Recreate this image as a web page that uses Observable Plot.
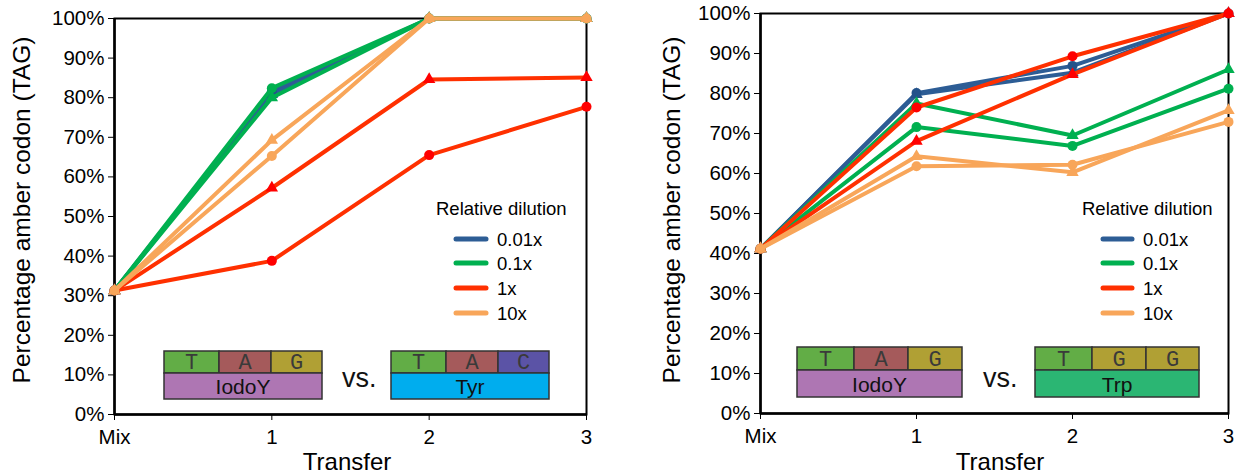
<!DOCTYPE html>
<html>
<head>
<meta charset="utf-8">
<script src="https://cdn.jsdelivr.net/npm/d3@7"></script>
<script src="https://cdn.jsdelivr.net/npm/@observablehq/plot@0.6"></script>
<style>
  html, body { margin: 0; padding: 0; background: #fff; }
  #wrap { display: flex; flex-direction: row; width: 1248px; height: 475px; }
  svg { overflow: visible; }
</style>
</head>
<body>
<div id="wrap"></div>
<script>
// ---- data ----
const transfers = ["Mix", "1", "2", "3"];
const dilutions = ["0.01x", "0.1x", "1x", "10x"];
const yTicks = [0, 10, 20, 30, 40, 50, 60, 70, 80, 90, 100];

// left panel: IodoY vs Tyr (order of rows = dilutions)
const leftCircles = [
  [31.3, 81.5, 100, 100],
  [31.3, 82.4, 100, 100],
  [31.3, 38.8, 65.5, 77.7],
  [31.3, 65.3, 100, 100]
];
const leftTriangles = [
  [31.3, 80.8, 100, 100],
  [31.3, 80.0, 100, 100],
  [31.3, 57.2, 84.6, 85.1],
  [31.3, 69.3, 100, 100]
];
// right panel: IodoY vs Trp
const rightCircles = [
  [41.2, 80.1, 86.9, 100],
  [41.2, 71.6, 66.9, 81.2],
  [41.2, 76.5, 89.3, 100],
  [41.2, 61.8, 62.2, 72.9]
];
const rightTriangles = [
  [41.2, 79.8, 85.2, 100],
  [41.2, 77.5, 69.5, 86.0],
  [41.2, 68.1, 84.8, 100],
  [41.2, 64.3, 60.3, 75.8]
];

const lineColors = ["#2d5d95", "#00b050", "#ff3000", "#f8a65a"];
const markColors = ["#23528a", "#00b050", "#ff0000", "#f8a65a"];

const FONT = "'Liberation Sans', Arial, sans-serif";

function rowsFor(circles, triangles) {
  const rows = [];
  dilutions.forEach((d, i) => {
    circles[i].forEach((v, t) => rows.push({dil: d, di: i, shape: "circle", x: t, y: v}));
    triangles[i].forEach((v, t) => rows.push({dil: d, di: i, shape: "triangle", x: t, y: v}));
  });
  return rows;
}

function panel(circles, triangles, m) {
  const rows = rowsFor(circles, triangles);
  const seriesMarks = dilutions.flatMap((d, i) => {
    const sub = rows.filter(r => r.dil === d);
    return [
      Plot.line(sub, {x: "x", y: "y", z: "shape", stroke: lineColors[i], strokeWidth: 4, strokeLinejoin: "round"}),
      Plot.dot(sub.filter(r => r.shape === "circle"), {x: "x", y: "y", r: 5, fill: markColors[i], symbol: "circle"}),
      Plot.dot(sub.filter(r => r.shape === "triangle"), {x: "x", y: "y", r: 4.6, fill: markColors[i], symbol: "triangle"})
    ];
  });
  return Plot.plot({
    width: 624, height: 475,
    marginLeft: m.left, marginRight: m.right, marginTop: m.top, marginBottom: m.bottom,
    style: {fontFamily: FONT, fontSize: "20.5px", color: "#000", background: "transparent", overflow: "visible"},
    x: {type: "linear", domain: [0, 3]},
    y: {domain: [0, 100]},
    marks: [
      Plot.frame({stroke: "#000", strokeWidth: 2}),
      Plot.axisX({ticks: [0, 1, 2, 3], tickFormat: t => transfers[t], tickSize: 6, tickPadding: 9, tickStrokeWidth: 2, label: null, fontSize: 20.5}),
      Plot.axisY({ticks: yTicks, tickFormat: v => v + "%", tickSize: 6, tickPadding: 4, tickStrokeWidth: 1.5, label: null, fontSize: 20.5}),
      Plot.ruleX([0], {strokeWidth: 2.5}),
      Plot.ruleY([0], {strokeWidth: 2.5}),
      ...seriesMarks
    ]
  });
}

function annotate(svgNode, cfg) {
  const svg = d3.select(svgNode);
  const g = svg.append("g").attr("font-family", FONT).attr("text-anchor", "start");
  // axis titles
  g.append("text").attr("transform", `translate(${cfg.yTitleX},${cfg.yTitleY}) rotate(-90)`)
    .attr("text-anchor", "middle").attr("font-size", 24.5).attr("fill", "#000")
    .text("Percentage amber codon (TAG)");
  g.append("text").attr("x", cfg.xTitleX).attr("y", 470).attr("text-anchor", "middle")
    .attr("font-size", 24).attr("fill", "#000").text("Transfer");
  // legend
  const L = cfg.legend;
  g.append("text").attr("x", L.titleX).attr("y", 215).attr("text-anchor", "start").attr("font-size", 18.5).attr("fill", "#000").text("Relative dilution");
  const ys = [239, 263, 288, 313];
  dilutions.forEach((d, i) => {
    g.append("line").attr("x1", L.lineX1).attr("x2", L.lineX2).attr("y1", ys[i]).attr("y2", ys[i])
      .attr("stroke", lineColors[i]).attr("stroke-width", 5).attr("stroke-linecap", "round");
    g.append("text").attr("x", L.labelX).attr("y", ys[i] + 6.5).attr("text-anchor", "start").attr("font-size", 18.5).attr("fill", "#000").text(d);
  });
  // codon boxes
  cfg.boxes.forEach(b => {
    const cells = b.cells;
    for (let k = 0; k < 3; k++) {
      g.append("rect").attr("x", cells[k]).attr("y", b.top).attr("width", cells[k + 1] - cells[k]).attr("height", b.mid - b.top)
        .attr("fill", b.codonColors[k]).attr("stroke", "#333").attr("stroke-width", 1.5);
      g.append("text").attr("x", (cells[k] + cells[k + 1]) / 2).attr("y", b.mid - 4).attr("text-anchor", "middle")
        .attr("font-family", "'Courier New', Courier, 'Liberation Mono', monospace").attr("font-size", 22).attr("fill", "#3a3a3a")
        .text(b.codon[k]);
    }
    g.append("rect").attr("x", cells[0]).attr("y", b.mid).attr("width", cells[3] - cells[0]).attr("height", b.bottom - b.mid)
      .attr("fill", b.aaColor).attr("stroke", "#333").attr("stroke-width", 1.5);
    g.append("text").attr("x", (cells[0] + cells[3]) / 2).attr("y", b.bottom - 5).attr("text-anchor", "middle")
      .attr("font-size", 21).attr("fill", "#111").text(b.aa);
  });
  g.append("text").attr("x", cfg.vsX).attr("y", 387).attr("text-anchor", "start").attr("font-size", 27).attr("fill", "#111").text("vs.");
}

const cT = "#62ad46", cA = "#a55a5b", cG = "#b0a034", cC = "#5b53a6";

const left = panel(leftCircles, leftTriangles, {left: 114, right: 38, top: 18, bottom: 61});
const right = panel(rightCircles, rightTriangles, {left: 136, right: 20, top: 13, bottom: 62});
document.getElementById("wrap").append(left, right);

annotate(left, {
  yTitleX: 30, yTitleY: 210, xTitleX: 347,
  legend: {titleX: 436, lineX1: 456, lineX2: 486, labelX: 497},
  boxes: [
    {cells: [164, 219, 271, 322], top: 351, mid: 373, bottom: 399, codon: ["T", "A", "G"], codonColors: [cT, cA, cG], aa: "IodoY", aaColor: "#ae76b3"},
    {cells: [391, 446, 498, 549], top: 351, mid: 373, bottom: 399, codon: ["T", "A", "C"], codonColors: [cT, cA, cC], aa: "Tyr", aaColor: "#00adee"}
  ],
  vsX: 342
});
annotate(right, {
  yTitleX: 56, yTitleY: 210, xTitleX: 376,
  legend: {titleX: 458, lineX1: 479, lineX2: 508, labelX: 519},
  boxes: [
    {cells: [173, 230, 284, 338], top: 347, mid: 370, bottom: 397, codon: ["T", "A", "G"], codonColors: [cT, cA, cG], aa: "IodoY", aaColor: "#ae76b3"},
    {cells: [411, 468, 522, 575], top: 347, mid: 370, bottom: 397, codon: ["T", "G", "G"], codonColors: [cT, cG, cG], aa: "Trp", aaColor: "#2bb673"}
  ],
  vsX: 359
});
</script>
</body>
</html>
